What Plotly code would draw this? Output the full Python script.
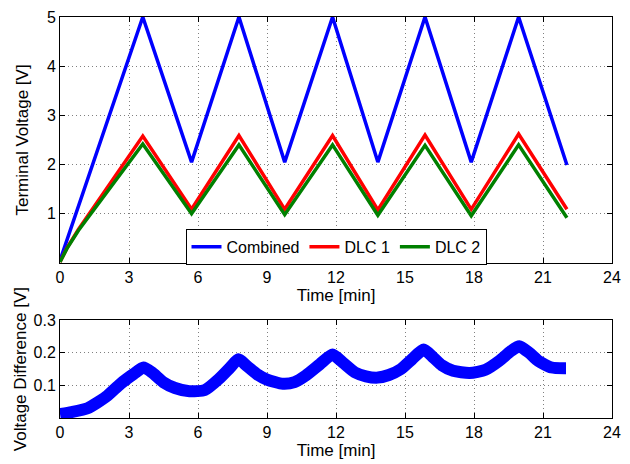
import plotly.graph_objects as go
from plotly.subplots import make_subplots

# Top panel: terminal voltages
t_comb = [0, 3.6, 5.72, 7.78, 9.77, 11.85, 13.82, 15.87, 17.88, 19.94, 22.04]
v_comb = [0.05, 5.0, 2.05, 5.0, 2.05, 5.0, 2.05, 5.0, 2.05, 5.0, 1.99]

t_dlc = [0, 0.3, 0.8, 3.6, 5.72, 7.78, 9.77, 11.85, 13.82, 15.87, 17.88, 19.94, 22.04]
v_dlc1 = [0.02, 0.3, 0.68, 2.58, 1.09, 2.59, 1.09, 2.59, 1.08, 2.60, 1.09, 2.62, 1.09]
v_dlc2 = [0.02, 0.29, 0.66, 2.42, 1.00, 2.40, 0.98, 2.40, 0.97, 2.39, 0.96, 2.40, 0.92]

# Bottom panel: voltage difference
t_diff = [0, 0.5, 1.2, 2.0, 2.63, 3.2, 3.63, 4.0, 4.49, 5.0, 5.63, 6.3, 6.91, 7.4, 7.76,
          8.12, 8.55, 9.0, 9.69, 10.2, 10.68, 11.3, 11.85, 12.3, 12.82, 13.3, 13.82, 14.3,
          14.82, 15.3, 15.81, 16.24, 16.6, 17.09, 17.81, 18.5, 19.09, 19.6, 19.97, 20.4,
          20.8, 21.37, 22.0]
v_diff = [0.012, 0.018, 0.03, 0.065, 0.105, 0.135, 0.155, 0.14, 0.11, 0.092, 0.082, 0.086,
          0.12, 0.155, 0.18, 0.16, 0.135, 0.118, 0.105, 0.11, 0.13, 0.165, 0.195, 0.17,
          0.14, 0.128, 0.124, 0.132, 0.15, 0.18, 0.21, 0.185, 0.162, 0.145, 0.138, 0.148,
          0.175, 0.205, 0.22, 0.2, 0.175, 0.155, 0.153]

x_ticks = [0, 3, 6, 9, 12, 15, 18, 21, 24]

FONT = "Liberation Sans, Arial, sans-serif"

fig = make_subplots(rows=2, cols=1, vertical_spacing=0.05)

fig.add_trace(go.Scatter(x=t_comb, y=v_comb, mode="lines", name="Combined",
                         line=dict(color="#0000ff", width=3.5)), row=1, col=1)
fig.add_trace(go.Scatter(x=t_dlc, y=v_dlc1, mode="lines", name="DLC 1",
                         line=dict(color="#ff0000", width=3.5)), row=1, col=1)
fig.add_trace(go.Scatter(x=t_dlc, y=v_dlc2, mode="lines", name="DLC 2",
                         line=dict(color="#008000", width=3.5)), row=1, col=1)
fig.add_trace(go.Scatter(x=t_diff, y=v_diff, mode="lines", showlegend=False,
                         line=dict(color="#0000ff", width=12, shape="spline", smoothing=0.6)),
              row=2, col=1)

axis_common = dict(showline=True, linecolor="black", linewidth=1, mirror="ticks",
                   ticks="inside", ticklen=5, tickcolor="black", showgrid=True,
                   gridcolor="#808080", griddash="1px,3px", gridwidth=1, zeroline=False,
                   tickfont=dict(size=16, color="black", family=FONT),
                   title_font=dict(size=17, color="black", family=FONT))

fig.update_xaxes(**axis_common, range=[0, 24], tickvals=x_ticks,
                 title_text="Time [min]", title_standoff=2)
fig.update_yaxes(**axis_common)
fig.update_yaxes(range=[0, 5], tickvals=[1, 2, 3, 4, 5], title_text="Terminal Voltage [V]",
                 title_standoff=13, row=1, col=1)
fig.update_yaxes(range=[0, 0.3], tickvals=[0.1, 0.2, 0.3], title_text="Voltage Difference [V]",
                 title_standoff=2, row=2, col=1)

fig.update_layout(
    width=630, height=464,
    margin=dict(l=60, r=9, t=17, b=41),
    paper_bgcolor="white", plot_bgcolor="white",
    font=dict(family=FONT, size=16, color="black"),
    xaxis=dict(domain=[0, 1]), xaxis2=dict(domain=[0, 1]),
    yaxis=dict(domain=[0.3867, 1.0]), yaxis2=dict(domain=[0.0, 0.2438]),
    legend=dict(orientation="h", x=0.5, xanchor="center", y=0.382, yanchor="bottom",
                bgcolor="white", bordercolor="black", borderwidth=1,
                font=dict(size=16, family=FONT, color="black"),
                itemwidth=30, tracegroupgap=0),
    showlegend=True,
)

fig.write_html("out.html")
